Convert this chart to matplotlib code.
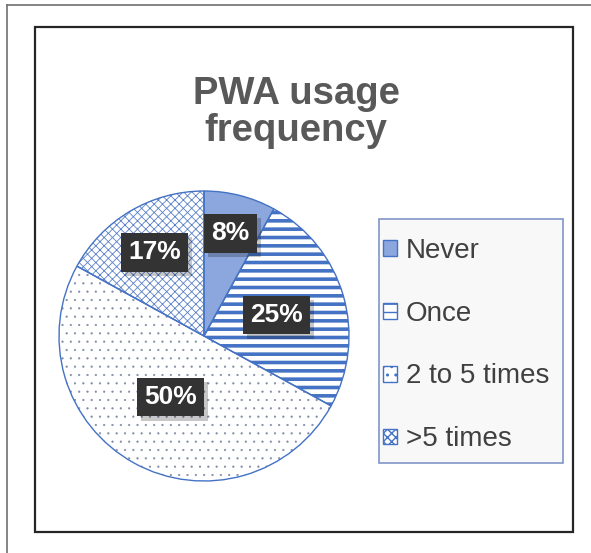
import numpy as np
import matplotlib
matplotlib.use("Agg")
import matplotlib.pyplot as plt
from matplotlib.patches import Rectangle, Patch
from matplotlib.lines import Line2D
import matplotlib.patheffects as pe

# ---- data ----
categories = ["Never", "Once", "2 to 5 times", ">5 times"]
values = [8, 25, 50, 17]
title_lines = ["PWA usage", "frequency"]

# ---- styles ----
W, H = 591, 553
edge_blue = "#4472C4"
facecolors = ["#8BA7DD", "white", "white", "white"]
hatches = [None, "--", "..", "xxxx"]
hatch_colors = [edge_blue, edge_blue, "#7F8AA6", "#5A80C8"]
hatch_lw = [1.0, 2.6, 0.35, 0.6]
label_dist = [0.73, 0.52, 0.48, 0.67]

plt.rcParams["font.family"] = ["Liberation Sans", "DejaVu Sans"]

fig = plt.figure(figsize=(W / 100, H / 100), dpi=100)
fig.patch.set_facecolor("white")

def fx(x):
    return x / W

def fy(y):
    return 1 - y / H

# outer frame (left and top only visible)
fig.add_artist(Line2D([fx(7), fx(7)], [fy(5), 0], color="#6f6f6f", lw=1.2,
                      transform=fig.transFigure))
fig.add_artist(Line2D([fx(7), 1], [fy(5), fy(5)], color="#6f6f6f", lw=1.2,
                      transform=fig.transFigure))
# inner chart frame
fig.add_artist(Rectangle((fx(35), fy(532)), fx(573) - fx(35), fy(27) - fy(532),
                         transform=fig.transFigure, fill=False,
                         edgecolor="#262626", lw=1.6))

# title
fig.text(fx(296), fy(104), title_lines[0], ha="center", va="baseline",
         fontsize=27.5, fontweight="bold", color="#595959")
fig.text(fx(296), fy(141), title_lines[1], ha="center", va="baseline",
         fontsize=27.5, fontweight="bold", color="#595959")

# pie (fills + hatches)
cx, cy, r = 204, 336, 145
ax = fig.add_axes([fx(cx - r), fy(cy + r), (2 * r) / W, (2 * r) / H])
wedges, _ = ax.pie(values, startangle=90, counterclock=False,
                   colors=facecolors,
                   wedgeprops=dict(linewidth=0))
for w, h, hc, lw in zip(wedges, hatches, hatch_colors, hatch_lw):
    w.set_edgecolor(hc)
    w.set_linewidth(0)
    if h:
        w.set_hatch(h)
    if hasattr(w, "set_hatch_linewidth"):
        w.set_hatch_linewidth(lw)
# slice outlines
ax.pie(values, startangle=90, counterclock=False,
       wedgeprops=dict(fill=False, edgecolor=edge_blue, linewidth=1.0))
ax.set_xlim(-1, 1)
ax.set_ylim(-1, 1)
ax.set_aspect("equal")
ax.axis("off")

# percentage labels
total = sum(values)
for w, v, d in zip(wedges, values, label_dist):
    ang = np.deg2rad((w.theta1 + w.theta2) / 2)
    x, y = d * np.cos(ang), d * np.sin(ang)
    txt = f"{v / total * 100:.0f}%"
    t = ax.text(x, y, txt, ha="center", va="center", fontsize=19, fontweight="bold",
                color="white",
                bbox=dict(boxstyle="square,pad=0.28", fc="#333333", ec="none"))
    t.get_bbox_patch().set_path_effects(
        [pe.SimplePatchShadow(offset=(3, -3), shadow_rgbFace="black", alpha=0.22),
         pe.Normal()])

# legend frame
fig.add_artist(Rectangle((fx(379), fy(463)), fx(563) - fx(379), fy(219) - fy(463),
                         transform=fig.transFigure, facecolor="#F8F8F8",
                         edgecolor="#8096C8", lw=1.2, zorder=0.5))
handles = []
for c, h, lw in zip(facecolors, hatches, hatch_lw):
    p = Patch(facecolor=c, edgecolor=edge_blue, hatch=h, linewidth=1.0)
    if hasattr(p, "set_hatch_linewidth"):
        p.set_hatch_linewidth(min(lw, 1.6))
    handles.append(p)
leg = fig.legend(handles, categories, loc="center left",
                 bbox_to_anchor=(fx(383), fy(345)), frameon=False,
                 fontsize=20, labelcolor="#404040",
                 handlelength=0.5, handleheight=0.5, handletextpad=0.32,
                 labelspacing=1.33, borderpad=0.0, borderaxespad=0.0)
leg.set_zorder(1)

fig.savefig("out.png", dpi=100, facecolor="white")
